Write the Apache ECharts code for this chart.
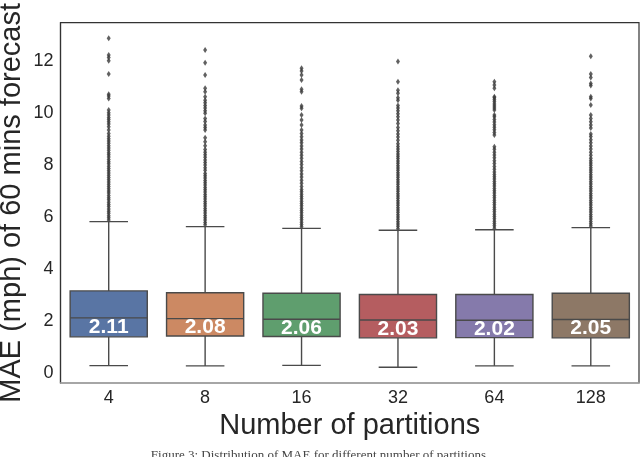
<!DOCTYPE html>
<html>
<head>
<meta charset="utf-8">
<script src="https://cdn.jsdelivr.net/npm/echarts@6/dist/echarts.min.js"></script>
<style>
html,body{margin:0;padding:0;background:#fff;}
#chart{width:640px;height:457px;}
</style>
</head>
<body>
<div id="chart"></div>
<script>
// ---- data ----
var categories = ['4', '8', '16', '32', '64', '128'];
var lowWhisker = [0.27, 0.26, 0.28, 0.21, 0.26, 0.26];
var q1 = [1.38, 1.41, 1.39, 1.34, 1.35, 1.34];
var median = [2.11, 2.08, 2.06, 2.03, 2.02, 2.05];
var q3 = [3.15, 3.08, 3.06, 3.01, 3.01, 3.06];
var highWhisker = [5.82, 5.63, 5.56, 5.49, 5.51, 5.59];
var medianLabels = ['2.11', '2.08', '2.06', '2.03', '2.02', '2.05'];
var yTicks = [0, 2, 4, 6, 8, 10, 12];
var boxColors = ['#5975a4', '#cc8963', '#5f9e6e', '#b55d60', '#857aab', '#8d7866'];

var outliers4 = [5.88, 5.97, 6.05, 6.14, 6.22, 6.31, 6.4, 6.48, 6.57, 6.66, 6.74, 6.83, 6.92, 7.0, 7.09, 7.18, 7.26, 7.35, 7.44, 7.52, 7.61, 7.7, 7.78, 7.87, 7.96, 8.05, 8.13, 8.22, 8.31, 8.4, 8.48, 8.57, 8.66, 8.75, 8.84, 8.93, 9.02, 9.11, 9.22, 9.35, 9.48, 9.58, 9.67, 9.76, 9.84, 9.93, 10.02, 10.12, 10.57, 10.66, 10.73, 11.51, 12.02, 12.15, 12.24, 12.89];
var outliers8 = [5.7, 5.79, 5.88, 5.97, 6.06, 6.15, 6.24, 6.33, 6.42, 6.51, 6.6, 6.69, 6.78, 6.87, 6.96, 7.05, 7.14, 7.23, 7.32, 7.41, 7.5, 7.59, 7.68, 7.8, 7.9, 8.0, 8.1, 8.2, 8.3, 8.4, 8.5, 8.6, 8.75, 8.9, 9.05, 9.35, 9.45, 9.55, 9.68, 9.8, 10.0, 10.1, 10.2, 10.3, 10.4, 10.5, 10.64, 10.83, 10.96, 11.47, 11.95, 12.44];
var outliers16 = [5.62, 5.71, 5.8, 5.89, 5.98, 6.07, 6.16, 6.25, 6.34, 6.43, 6.52, 6.61, 6.7, 6.79, 6.88, 6.97, 7.06, 7.18, 7.3, 7.42, 7.54, 7.66, 7.78, 7.9, 8.02, 8.14, 8.26, 8.38, 8.5, 8.62, 8.74, 8.86, 8.97, 9.09, 9.22, 9.35, 9.55, 9.74, 9.93, 10.19, 10.28, 10.83, 10.92, 11.28, 11.47, 11.63, 11.73];
var outliers32 = [5.55, 5.64, 5.73, 5.82, 5.91, 6.0, 6.09, 6.18, 6.27, 6.36, 6.45, 6.54, 6.63, 6.72, 6.81, 6.9, 6.99, 7.08, 7.17, 7.26, 7.35, 7.44, 7.53, 7.62, 7.71, 7.8, 7.89, 7.98, 8.07, 8.16, 8.25, 8.34, 8.43, 8.52, 8.62, 8.72, 8.82, 8.96, 9.08, 9.2, 9.32, 9.45, 9.6, 9.74, 9.86, 9.98, 10.1, 10.2, 10.3, 10.5, 10.6, 10.77, 10.89, 11.21, 11.99];
var outliers64 = [5.57, 5.66, 5.75, 5.84, 5.93, 6.02, 6.11, 6.2, 6.29, 6.38, 6.47, 6.56, 6.65, 6.74, 6.83, 6.92, 7.01, 7.1, 7.19, 7.28, 7.37, 7.46, 7.55, 7.64, 7.73, 7.84, 7.95, 8.06, 8.17, 8.28, 8.39, 8.5, 8.61, 8.71, 9.16, 9.26, 9.36, 9.46, 9.56, 9.66, 9.76, 9.86, 9.93, 10.12, 10.2, 10.28, 10.36, 10.44, 10.52, 10.6, 10.64, 10.96, 11.09, 11.21];
var outliers128 = [5.65, 5.74, 5.83, 5.92, 6.01, 6.1, 6.19, 6.28, 6.37, 6.46, 6.55, 6.64, 6.73, 6.82, 6.91, 7.0, 7.09, 7.18, 7.27, 7.36, 7.45, 7.54, 7.63, 7.72, 7.81, 7.9, 7.99, 8.08, 8.17, 8.26, 8.38, 8.5, 8.62, 8.74, 8.86, 8.98, 9.1, 9.2, 9.43, 9.55, 9.67, 9.8, 9.93, 10.32, 10.57, 10.64, 11.07, 11.15, 11.38, 11.51, 12.2];
var outlierGroups = [outliers4, outliers8, outliers16, outliers32, outliers64, outliers128];

var captionText = 'Figure 3: Distribution of MAE for different number of partitions.';

// ---- build ----
var boxData = categories.map(function (c, i) {
  return [i, lowWhisker[i], q1[i], median[i], q3[i], highWhisker[i]];
});
var flierData = [];
outlierGroups.forEach(function (arr, i) {
  arr.forEach(function (v) { flierData.push([i, v]); });
});

var lineCol = '#4a4a4a';

var chart = echarts.init(document.getElementById('chart'), null, {renderer: 'canvas'});
chart.setOption({
  animation: false,
  backgroundColor: '#ffffff',
  grid: {left: 60.5, right: 1, top: 22.7, bottom: 74, containLabel: false, outerBoundsMode: 'none',
    show: true, borderColor: '#333', borderWidth: 1.2},
  xAxis: {
    type: 'category',
    data: categories,
    boundaryGap: true,
    axisLine: {show: true, onZero: false, lineStyle: {color: '#aaaaaa', width: 1.5}},
    axisTick: {show: false},
    axisLabel: {color: '#262626', fontSize: 18, fontFamily: 'Liberation Sans, Arial, sans-serif', margin: 6},
    splitLine: {show: false},
    name: 'Number of partitions',
    nameLocation: 'middle',
    nameGap: 28,
    nameMoveOverlap: false,
    nameTextStyle: {color: '#262626', fontSize: 29, fontFamily: 'Liberation Sans, Arial, sans-serif'}
  },
  yAxis: {
    type: 'value',
    min: -0.4,
    max: 13.49,
    axisLine: {show: true, onZero: false, lineStyle: {color: '#333', width: 1.2}},
    axisTick: {show: false},
    splitLine: {show: false},
    axisLabel: {customValues: yTicks, color: '#262626', fontSize: 18, fontFamily: 'Liberation Sans, Arial, sans-serif', margin: 7},
    name: 'MAE (mph) of 60 mins forecast',
    nameLocation: 'middle',
    nameGap: 34,
    nameMoveOverlap: false,
    nameTextStyle: {color: '#262626', fontSize: 29, fontFamily: 'Liberation Sans, Arial, sans-serif'}
  },
  graphic: [{
    type: 'text', left: 'center', top: 449,
    style: {text: captionText, fill: '#444', font: '13px "Liberation Serif", serif'}
  }],
  series: [
    {
      type: 'custom',
      data: boxData,
      z: 3,
      renderItem: function (params, api) {
        var idx = api.value(0);
        var band = api.size([1, 0])[0];
        var bw = band * 0.8;
        var cw = band * 0.4;
        var pLow = api.coord([idx, api.value(1)]);
        var pQ1 = api.coord([idx, api.value(2)]);
        var pMed = api.coord([idx, api.value(3)]);
        var pQ3 = api.coord([idx, api.value(4)]);
        var pHigh = api.coord([idx, api.value(5)]);
        var x = pMed[0];
        var ls = {stroke: lineCol, lineWidth: 1.4};
        return {
          type: 'group',
          children: [
            {type: 'line', shape: {x1: x, y1: pQ3[1], x2: x, y2: pHigh[1]}, style: ls},
            {type: 'line', shape: {x1: x, y1: pQ1[1], x2: x, y2: pLow[1]}, style: ls},
            {type: 'line', shape: {x1: x - cw / 2, y1: pHigh[1], x2: x + cw / 2, y2: pHigh[1]}, style: ls},
            {type: 'line', shape: {x1: x - cw / 2, y1: pLow[1], x2: x + cw / 2, y2: pLow[1]}, style: ls},
            {type: 'rect', shape: {x: x - bw / 2, y: pQ3[1], width: bw, height: pQ1[1] - pQ3[1]},
              style: {fill: boxColors[params.dataIndex], stroke: lineCol, lineWidth: 1.4}},
            {type: 'line', shape: {x1: x - bw / 2, y1: pMed[1], x2: x + bw / 2, y2: pMed[1]}, style: ls},
            {type: 'text', x: x, y: pMed[1] + 9,
              style: {text: medianLabels[params.dataIndex], fill: '#ffffff',
                font: 'bold 21px "Liberation Sans", Arial, sans-serif', align: 'center', verticalAlign: 'middle'}}
          ]
        };
      }
    },
    {
      type: 'scatter',
      data: flierData,
      symbol: 'diamond',
      symbolSize: [4, 6],
      itemStyle: {color: '#3a3a3a'},
      z: 2
    }
  ]
});
</script>
</body>
</html>
